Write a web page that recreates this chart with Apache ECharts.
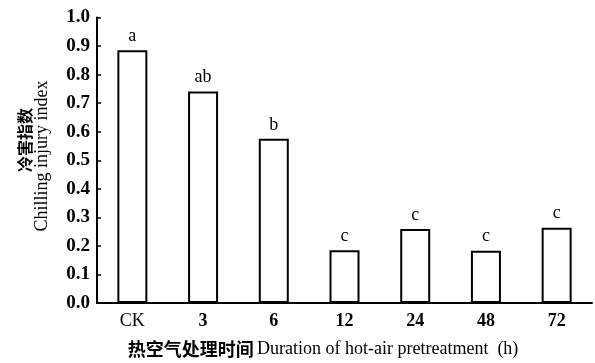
<!DOCTYPE html>
<html><head><meta charset="utf-8">
<script src="https://cdn.jsdelivr.net/npm/echarts@6/dist/echarts.min.js"></script>
<style>html,body{margin:0;padding:0;background:#fff}#c{width:595px;height:363px}</style>
</head><body><div id="c"></div>
<script>
const categories = ['CK', '3', '6', '12', '24', '48', '72'];
const values = [0.885, 0.741, 0.575, 0.185, 0.259, 0.183, 0.264];
const letters = ['a', 'ab', 'b', 'c', 'c', 'c', 'c'];
const yTicks = [0, 0.1, 0.2, 0.3, 0.4, 0.5, 0.6, 0.7, 0.8, 0.9, 1.0];

const serif = '"Liberation Serif", "Times New Roman", serif';
const cjk = '"Noto Sans CJK SC", sans-serif';
const chart = echarts.init(document.getElementById('c'), null, {renderer: 'canvas'});
chart.setOption({
  animation: false,
  backgroundColor: '#fff',
  grid: {left: 97, right: 3, top: 17.5, bottom: 60},
  xAxis: {
    type: 'category', data: categories,
    axisLine: {lineStyle: {color: '#000', width: 2}},
    axisTick: {inside: true, length: 4, lineStyle: {color: '#000', width: 1.5}},
    axisLabel: {color: '#000', margin: 9,
      formatter: v => v === 'CK' ? '{r|' + v + '}' : '{b|' + v + '}',
      rich: {
        r: {fontFamily: serif, fontSize: 18, color: '#000'},
        b: {fontFamily: serif, fontSize: 18, fontWeight: 'bold', color: '#000'}
      }}
  },
  yAxis: {
    type: 'value', min: yTicks[0], max: yTicks[yTicks.length - 1], interval: 0.1,
    splitLine: {show: false},
    axisLine: {show: true, lineStyle: {color: '#000', width: 2}},
    axisTick: {show: true, inside: true, length: 4, lineStyle: {color: '#000', width: 1.5}},
    axisLabel: {color: '#000', fontFamily: serif, fontSize: 19, fontWeight: 'bold', margin: 7,
      formatter: v => v.toFixed(1)}
  },
  series: [{
    type: 'bar', data: values, barWidth: 30,
    itemStyle: {color: '#fff', borderColor: '#000', borderWidth: 2},
    label: {show: true, position: 'top', distance: 5, color: '#000', fontFamily: serif, fontSize: 18,
      formatter: p => letters[p.dataIndex]}
  }],
  graphic: [
    {type: 'text', rotation: Math.PI / 2, x: 25, y: 140,
     style: {text: '冷害指数', font: 'bold 16px ' + cjk, fill: '#000', textAlign: 'center', textVerticalAlign: 'middle'}},
    {type: 'text', rotation: Math.PI / 2, x: 42, y: 156,
     style: {text: 'Chilling injury index', font: '18px ' + serif, fill: '#000', textAlign: 'center', textVerticalAlign: 'middle'}},
    {type: 'text', x: 323, y: 349,
     style: {rich: {cn: {font: 'bold 18px ' + cjk, fill: '#000'}, en: {font: '18px ' + serif, fill: '#000'}},
       text: '{cn|热空气处理时间} {en|Duration of hot-air pretreatment  (h)}', textAlign: 'center', textVerticalAlign: 'middle'}}
  ]
});
</script></body></html>
